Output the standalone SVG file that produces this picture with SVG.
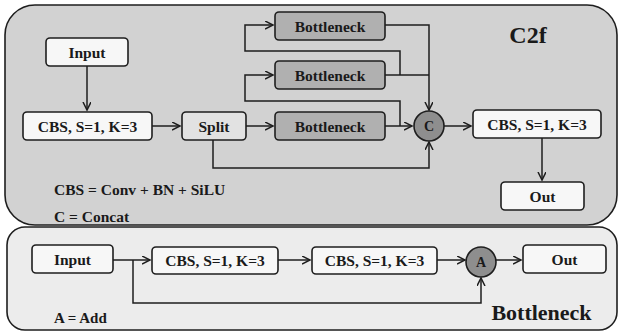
<svg xmlns="http://www.w3.org/2000/svg" width="620" height="333" viewBox="0 0 620 333">
<style>
.cont{stroke:#1e1e1e;stroke-width:1.6}
.box{stroke:#1e1e1e;stroke-width:1.6}
.w{fill:#f7f7f7}
.sp{fill:#e2e2e2}
.bn{fill:#b0b0b0}
.circ{fill:#8e8e8e;stroke:#1e1e1e;stroke-width:1.6}
text{font-family:'Liberation Serif','DejaVu Serif','Times New Roman',serif;font-weight:bold;fill:#1a1a1a}
.t{font-size:15.5px;text-anchor:middle}
.big{font-size:23px;text-anchor:middle}
.lg{font-size:15.5px}
.c{fill:none;stroke:#1e1e1e;stroke-width:1.5}
</style>
<defs>
<marker id="ah" markerUnits="userSpaceOnUse" markerWidth="10" markerHeight="10" refX="8" refY="4" orient="auto">
<path d="M0,0 L8,4 L0,8" fill="none" stroke="#1e1e1e" stroke-width="1.5"/>
</marker>
</defs>
<g id="c2f-container">
<rect class="cont" x="5" y="5" width="612" height="220" rx="30" fill="#d2d2d2"/>
<text class="big" x="528" y="43" style="font-size:24px">C2f</text>
<text class="lg" x="54" y="195">CBS = Conv + BN + SiLU</text>
<text class="lg" x="54" y="222">C = Concat</text>
</g>
<g id="bottleneck-container">
<rect class="cont" x="7" y="227" width="610" height="103" rx="18" fill="#ececec"/>
<text class="big" x="541.5" y="320" style="font-size:22px">Bottleneck</text>
<text class="lg" x="54" y="323" style="font-size:15px">A = Add</text>
</g>
<g id="connectors">
<path class="c" d="M87,66 V110" marker-end="url(#ah)"/>
<path class="c" d="M152,126 H180" marker-end="url(#ah)"/>
<path class="c" d="M246,126 H273" marker-end="url(#ah)"/>
<path class="c" d="M213,140 V168 H429 V142" marker-end="url(#ah)"/>
<path class="c" d="M385,126 H412" marker-end="url(#ah)"/>
<path class="c" d="M400,126 V101 H245 V75 H273" marker-end="url(#ah)"/>
<path class="c" d="M385,75 H429"/>
<path class="c" d="M400,75 V51 H245 V25 H273" marker-end="url(#ah)"/>
<path class="c" d="M385,25 H429 V110" marker-end="url(#ah)"/>
<path class="c" d="M444,126 H471" marker-end="url(#ah)"/>
<path class="c" d="M542,138 V180" marker-end="url(#ah)"/>
<path class="c" d="M113,260 H150" marker-end="url(#ah)"/>
<path class="c" d="M133,260 V303 H481 V278" marker-end="url(#ah)"/>
<path class="c" d="M278,260 H310" marker-end="url(#ah)"/>
<path class="c" d="M437,260 H465" marker-end="url(#ah)"/>
<path class="c" d="M496,260 H521" marker-end="url(#ah)"/>
</g>
<g id="c2f-input">
<rect class="box w" x="46" y="38" width="82" height="28" rx="4"/>
<text class="t" x="87" y="57.5">Input</text>
</g>
<g id="c2f-cbs1">
<rect class="box w" x="23" y="112" width="129" height="28" rx="4"/>
<text class="t" x="87.5" y="131.5">CBS, S=1, K=3</text>
</g>
<g id="split">
<rect class="box sp" x="182" y="112" width="64" height="28" rx="4"/>
<text class="t" x="214" y="131.5">Split</text>
</g>
<g id="bottleneck1">
<rect class="box bn" x="275" y="12" width="110" height="28" rx="4"/>
<text class="t" x="330" y="31.5">Bottleneck</text>
</g>
<g id="bottleneck2">
<rect class="box bn" x="275" y="61" width="110" height="28" rx="4"/>
<text class="t" x="330" y="80.5">Bottleneck</text>
</g>
<g id="bottleneck3">
<rect class="box bn" x="275" y="112" width="110" height="28" rx="4"/>
<text class="t" x="330" y="131.5">Bottleneck</text>
</g>
<g id="concat">
<circle class="circ" cx="429" cy="126" r="15"/>
<text class="t" x="429" y="131" style="font-size:14px">C</text>
</g>
<g id="c2f-cbs2">
<rect class="box w" x="473" y="110" width="128" height="28" rx="4"/>
<text class="t" x="537" y="129.5">CBS, S=1, K=3</text>
</g>
<g id="c2f-out">
<rect class="box w" x="501" y="182" width="83" height="28" rx="4"/>
<text class="t" x="542.5" y="201.5">Out</text>
</g>
<g id="bn-input">
<rect class="box w" x="32" y="245" width="81" height="28" rx="4"/>
<text class="t" x="72.5" y="264.5">Input</text>
</g>
<g id="bn-cbs1">
<rect class="box w" x="152" y="247" width="126" height="27" rx="4"/>
<text class="t" x="215" y="265.5">CBS, S=1, K=3</text>
</g>
<g id="bn-cbs2">
<rect class="box w" x="312" y="247" width="125" height="27" rx="4"/>
<text class="t" x="374.5" y="265.5">CBS, S=1, K=3</text>
</g>
<g id="add">
<circle class="circ" cx="481" cy="262" r="15"/>
<text class="t" x="481" y="267" style="font-size:14px">A</text>
</g>
<g id="bn-out">
<rect class="box w" x="523" y="245" width="83" height="28" rx="4"/>
<text class="t" x="564.5" y="264.5">Out</text>
</g>
</svg>
